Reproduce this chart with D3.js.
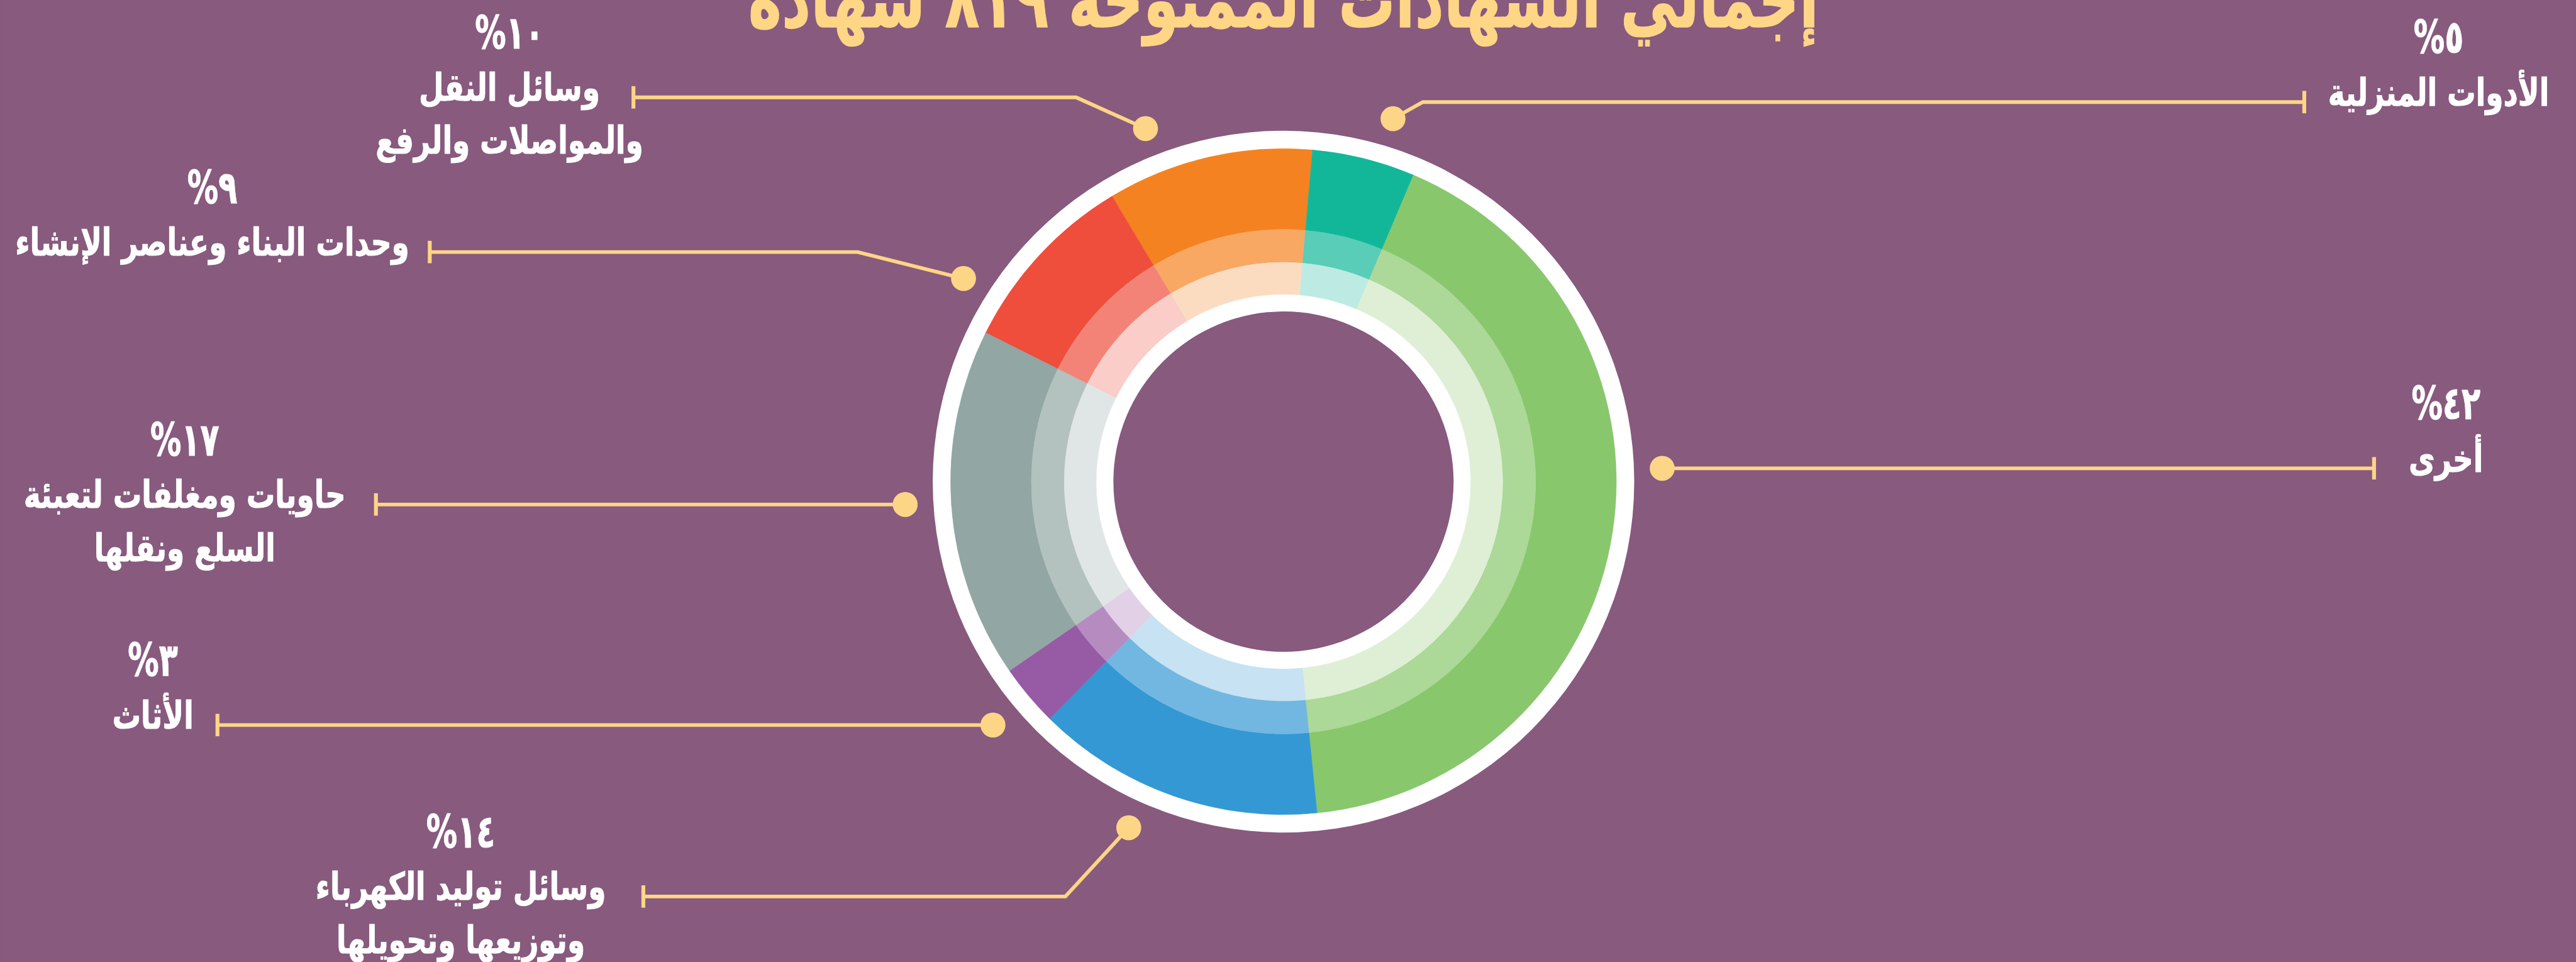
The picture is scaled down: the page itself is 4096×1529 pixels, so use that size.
<!DOCTYPE html>
<html lang="ar">
<head>
<meta charset="utf-8">
<script src="https://cdn.jsdelivr.net/npm/d3@7"></script>
<style>
  html, body { margin: 0; padding: 0; background: #875A7E; overflow: hidden; }
  svg { display: block; }
  text { font-family: "DejaVu Sans", sans-serif; font-weight: bold; }
</style>
</head>
<body>
<svg id="chart"></svg>
<script>
// ---- data ----
const titleText = "إجمالي الشهادات الممنوحة ٨١٩ شهادة";
const categories = [
  "وسائل النقل والمواصلات والرفع",
  "الأدوات المنزلية",
  "أخرى",
  "وسائل توليد الكهرباء وتوزيعها وتحويلها",
  "الأثاث",
  "حاويات ومغلفات لتعبئة السلع ونقلها",
  "وحدات البناء وعناصر الإنشاء"
];
// how each category name wraps onto lines
const categoryLines = [
  ["وسائل النقل", "والمواصلات والرفع"],
  ["الأدوات المنزلية"],
  ["أخرى"],
  ["وسائل توليد الكهرباء", "وتوزيعها وتحويلها"],
  ["الأثاث"],
  ["حاويات ومغلفات لتعبئة", "السلع ونقلها"],
  ["وحدات البناء وعناصر الإنشاء"]
];
const values = [10, 5, 42, 14, 3, 17, 9];

// ---- styles ----
const sliceColors = ["#F58220", "#12B79A", "#88C76C", "#3498D4", "#975BA5", "#92A6A4", "#EE4E3B"];
const bg = "#875A7E";
const accent = "#FDD586";

// ---- layout (drawing units match a 5980 x 2233 canvas, scaled to the window) ----
const VW = 5980, VH = 2233;
const W = window.innerWidth || 4096, H = window.innerHeight || 1529;
const cx = 2979.5, cy = 1118;
const rHole = 395, rInnerRing = 435, rLight = 509, rMid = 585.5, rOuter = 773, rOuterRing = 814.5;
const dotRadius = 880;

// callout placement per slice: dot angle (deg, clockwise from top), leader row, elbow, end tick and text centre
const callouts = [
  { angle: -21.35, row: 226,  elbow: 2498, tick: 1470, textX: 1182 },
  { angle: 16.8,   row: 237,  elbow: 3303, tick: 5350, textX: 5662 },
  { angle: 87.98,  row: 1087, elbow: null, tick: 5512, textX: 5679 },
  { angle: 204.1,  row: 2081, elbow: 2473, tick: 1493, textX: 1069 },
  { angle: 230.05, row: 1683, elbow: null, tick: 504,  textX: 354 },
  { angle: 266.6,  row: 1171, elbow: null, tick: 872,  textX: 428 },
  { angle: 302.4,  row: 585,  elbow: 1991, tick: 997,  textX: 492 }
];

const svg = d3.select("#chart")
  .attr("width", W).attr("height", H)
  .attr("viewBox", `0 0 ${VW} ${VH}`)
  .attr("preserveAspectRatio", "xMidYMid meet");

svg.append("rect").attr("width", VW).attr("height", VH).attr("fill", bg);

const arabicDigits = n => String(n).replace(/\d/g, d => "٠١٢٣٤٥٦٧٨٩"[d]);
const tint = (c, k) => d3.interpolateRgb(c, "#ffffff")(k);

// centred right-to-left text, narrowed horizontally to a condensed face
function condensedText(parent, x, y, str, size, squeeze, fill, weight) {
  return parent.append("text")
    .attr("transform", `translate(${x},${y}) scale(${squeeze},1)`)
    .attr("text-anchor", "middle")
    .attr("direction", "rtl")
    .attr("font-size", size)
    .attr("fill", fill)
    .attr("stroke", fill)
    .attr("stroke-width", weight)
    .attr("stroke-linejoin", "round")
    .text(str);
}

const rad = Math.PI / 180;
const startAngle = -31 * rad;
const pie = d3.pie().sort(null).startAngle(startAngle).endAngle(startAngle + 2 * Math.PI);
const arcs = pie(values);

const donut = svg.append("g").attr("transform", `translate(${cx},${cy})`);

// white frame ring behind the bands
donut.append("path")
  .attr("d", d3.arc()({ innerRadius: rHole, outerRadius: rOuterRing, startAngle: 0, endAngle: 2 * Math.PI }))
  .attr("fill", "#ffffff");

const bands = [
  { inner: rMid, outer: rOuter, k: 0 },
  { inner: rLight, outer: rMid, k: 0.3 },
  { inner: rInnerRing, outer: rLight, k: 0.72 }
];
bands.forEach(b => {
  const arcGen = d3.arc().innerRadius(b.inner).outerRadius(b.outer);
  donut.append("g").selectAll("path")
    .data(arcs)
    .join("path")
    .attr("d", arcGen)
    .attr("fill", (d, i) => tint(sliceColors[i], b.k))
    .attr("stroke", (d, i) => tint(sliceColors[i], b.k))
    .attr("stroke-width", 0.8);
});

// title
condensedText(svg, cx, 63, titleText, 184, 0.715, "#FED685", 2);

// callouts
const lineGen = d3.line();
const g = svg.append("g");
arcs.forEach((a, i) => {
  const c = callouts[i];
  const th = c.angle * rad;
  const dot = c.elbow === null
    ? [cx + dotRadius * Math.sin(th), c.row]
    : [cx + dotRadius * Math.sin(th), cy - dotRadius * Math.cos(th)];
  const pts = [[c.tick, c.row]];
  if (c.elbow !== null) pts.push([c.elbow, c.row]);
  pts.push(dot);

  g.append("path").attr("d", lineGen(pts))
    .attr("fill", "none").attr("stroke", accent).attr("stroke-width", 8.5);
  g.append("line")
    .attr("x1", c.tick).attr("x2", c.tick)
    .attr("y1", c.row - 26).attr("y2", c.row + 26)
    .attr("stroke", accent).attr("stroke-width", 9);
  g.append("circle")
    .attr("cx", dot[0]).attr("cy", dot[1]).attr("r", 29)
    .attr("fill", accent);

  const base = c.row + 8;
  condensedText(g, c.textX, base - 122, arabicDigits(a.data) + "%", 106, 0.68, "#ffffff", 1.5);
  categoryLines[i].forEach((ln, j) => {
    condensedText(g, c.textX, base + j * 123, ln, 88, 0.755, "#ffffff", 1.5);
  });
});
</script>
</body>
</html>
